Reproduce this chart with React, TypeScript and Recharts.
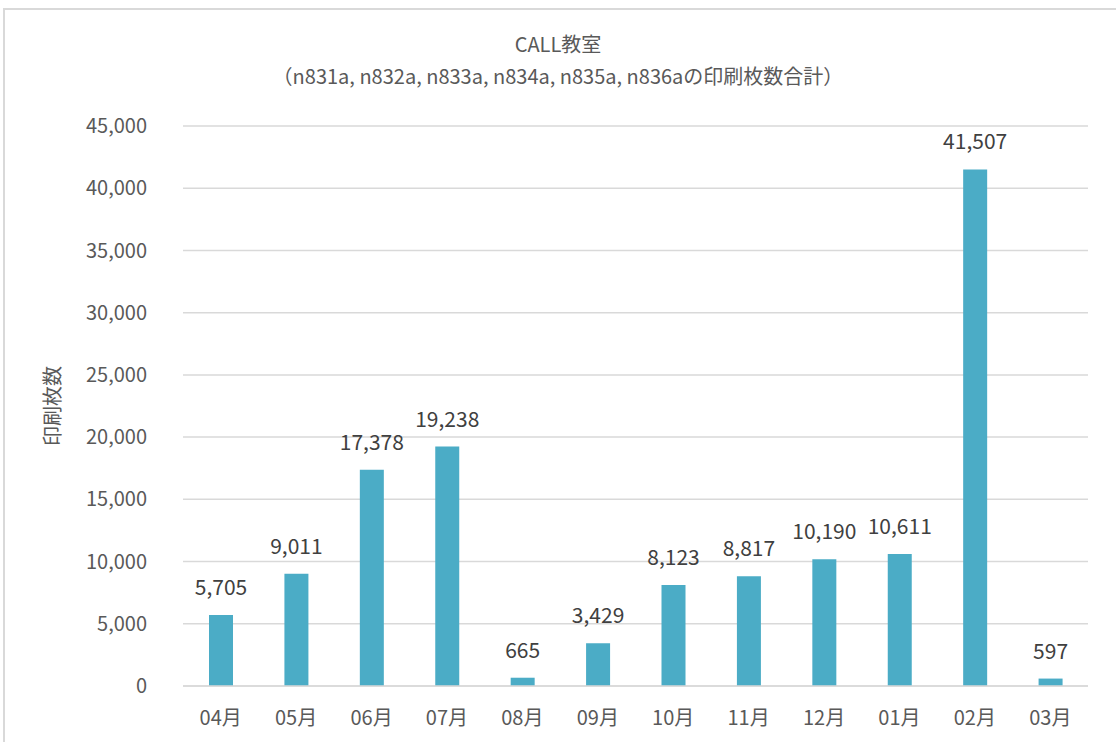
import { BarChart, Bar, XAxis, YAxis, CartesianGrid, LabelList } from "recharts";

const months = ["04月", "05月", "06月", "07月", "08月", "09月", "10月", "11月", "12月", "01月", "02月", "03月"];
const printCounts = [5705, 9011, 17378, 19238, 665, 3429, 8123, 8817, 10190, 10611, 41507, 597];
const yTicks = [0, 5000, 10000, 15000, 20000, 25000, 30000, 35000, 40000, 45000];

const TITLE = "CALL教室";
const SUBTITLE = "（n831a, n832a, n833a, n834a, n835a, n836aの印刷枚数合計）";
const Y_LABEL = "印刷枚数";

const FONT = "'Noto Sans CJK JP', 'Noto Sans', sans-serif";
const TEXT = "#595959";

const data = months.map((m, i) => ({ month: m, count: printCounts[i] }));

const fmt = (v: number) => v.toLocaleString("en-US");

export default function App() {
  return (
    <div style={{ position: "absolute", left: 0, top: 0, width: 1116, height: 742, overflow: "hidden", background: "#fff", fontFamily: FONT }}>
      <div
        style={{
          position: "absolute",
          left: 3,
          top: 8,
          width: 1130,
          height: 760,
          border: "2px solid #d9d9d9",
          boxSizing: "border-box",
        }}
      />
      <div style={{ position: "absolute", left: 0, width: 1116, top: 28, textAlign: "center", color: TEXT, fontSize: 20, lineHeight: "32px" }}>
        <div>{TITLE}</div>
        <div>{SUBTITLE}</div>
      </div>
      <div style={{ position: "absolute", left: 0, top: 0 }}>
        <BarChart
          width={1116}
          height={742}
          data={data}
          margin={{ top: 126, right: 28, left: 0, bottom: 26 }}
        >
          <CartesianGrid vertical={false} stroke="#d9d9d9" strokeWidth={1.5} />
          <XAxis
            dataKey="month"
            axisLine={{ stroke: "#d9d9d9", strokeWidth: 1.5 }}
            tickLine={false}
            tick={{ fill: TEXT, fontSize: 20, fontFamily: FONT }}
            tickMargin={19}
          />
          <YAxis
            width={183}
            domain={[0, 45000]}
            ticks={yTicks}
            interval={0}
            axisLine={false}
            tickLine={false}
            tickFormatter={fmt}
            tick={{ fill: TEXT, fontSize: 20, fontFamily: FONT }}
            tickMargin={30}
            label={{
              value: Y_LABEL,
              content: ({ viewBox }: any) => {
                const cy = viewBox.y + viewBox.height / 2;
                return (
                  <text
                    x={60}
                    y={cy}
                    transform={`rotate(-90 60 ${cy})`}
                    textAnchor="middle"
                    fill={TEXT}
                    fontSize={20}
                    fontFamily={FONT}
                  >
                    {Y_LABEL}
                  </text>
                );
              },
            }}
          />
          <Bar dataKey="count" fill="#4bacc6" barSize={24} isAnimationActive={false}>
            <LabelList
              dataKey="count"
              position="top"
              offset={20}
              formatter={(v: any) => fmt(Number(v))}
              fill="#404040"
              fontSize={21}
              fontFamily={FONT}
            />
          </Bar>
        </BarChart>
      </div>
    </div>
  );
}
